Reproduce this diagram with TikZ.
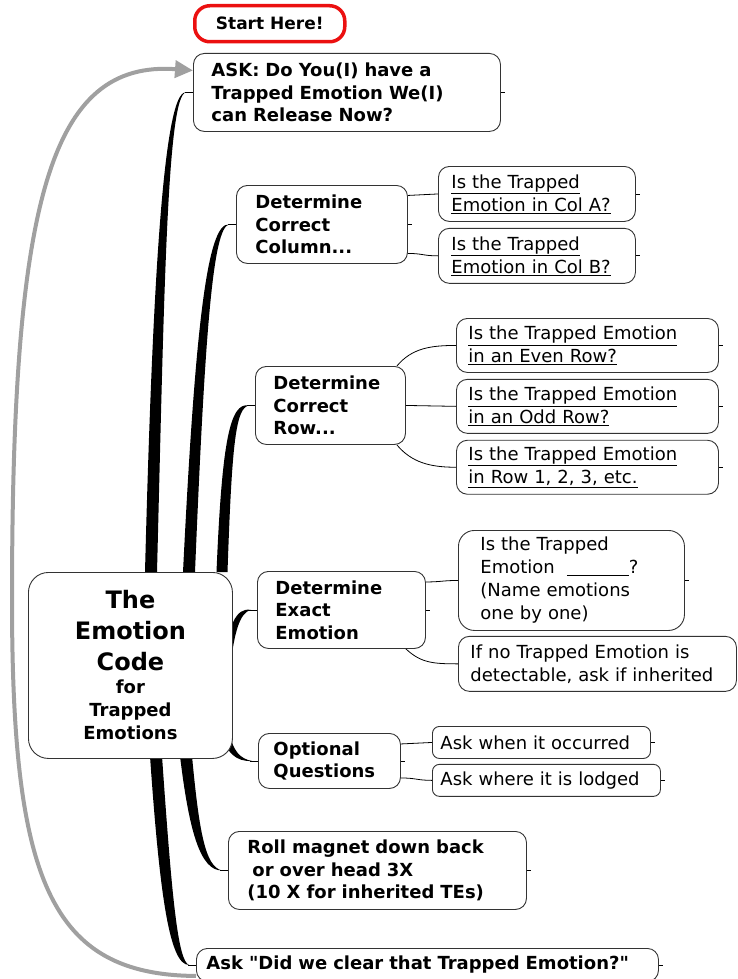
\documentclass[tikz,border=0pt]{standalone}
\usepackage{fontspec}
\setmainfont{DejaVu Sans}
\usetikzlibrary{positioning, arrows.meta, backgrounds}

\definecolor{loopgray}{RGB}{160,160,160}
\definecolor{startred}{RGB}{235,16,16}

\tikzset{
  box/.style={draw=black!80, line width=0.9pt, fill=white, rounded corners=11pt,
    anchor=north west, align=left, inner ysep=0pt},
  topic/.style={box, font=\fontsize{18}{22.5}\selectfont\bfseries},
  leaf/.style={box, font=\fontsize{18}{23}\selectfont},
  twig/.style={line width=0.8pt},
  limb/.style={fill=black},
}

\begin{document}
\begin{tikzpicture}[x=1pt, y=-1pt]
    \useasboundingbox (0,0) rectangle (737,979);
    \clip (0,0) rectangle (737,979);

    % centre of the map
    \node[box, rounded corners=20pt, align=center, text width=190pt, inner xsep=7pt,
          minimum height=186pt, font=\bfseries] (code) at (28,572)
        {{\fontsize{24}{31}\selectfont The\\Emotion\\Code\par}%
         {\fontsize{18}{23}\selectfont for\\Trapped\\Emotions\par}};

    \node[draw=startred, line width=3.5pt, rounded corners=15pt, anchor=north west,
          minimum width=150pt, minimum height=36pt, inner sep=0pt,
          font=\fontsize{17}{20}\selectfont\bfseries] (start) at (193,4) {Start Here!};

    % main topics
    \node[topic, text width=271pt, inner xsep=18pt, minimum height=78pt] (ask) at (193,53)
        {ASK: Do You(I) have a\\Trapped Emotion We(I)\\can Release Now?};
    \node[topic, text width=133pt, inner xsep=19pt, minimum height=78pt] (col) at (236,185)
        {Determine\\Correct\\Column...};
    \node[topic, text width=114pt, inner xsep=18pt, minimum height=78pt] (row) at (255,366)
        {Determine\\Correct\\Row...};
    \node[topic, text width=132pt, inner xsep=18pt, minimum height=77pt] (exact) at (257,571)
        {Determine\\Exact\\Emotion};
    \node[topic, text width=112pt, inner xsep=15pt, minimum height=55pt] (opt) at (258,733)
        {Optional\\Questions};
    \node[topic, text width=260pt, inner xsep=19pt, minimum height=78pt] (roll) at (228,831)
        {Roll magnet down back\\\hspace*{5pt}or over head 3X\\(10 X for inherited TEs)};
    \node[topic, text width=442pt, inner xsep=10pt, minimum height=33pt] (clear) at (196,948)
        {Ask \textquotedbl Did we clear that Trapped Emotion?\textquotedbl};

    % subtopics
    \node[leaf, text width=171pt, inner xsep=13pt, minimum height=55pt] (colA) at (438,166)
        {\underline{Is the Trapped}\\\underline{Emotion in Col A?}};
    \node[leaf, text width=171pt, inner xsep=13pt, minimum height=55pt, below=6pt of colA] (colB)
        {\underline{Is the Trapped}\\\underline{Emotion in Col B?}};

    \node[leaf, text width=238pt, inner xsep=12pt, minimum height=54pt] (even) at (456,318)
        {\underline{Is the Trapped Emotion}\\\underline{in an Even Row?}};
    \node[leaf, text width=238pt, inner xsep=12pt, minimum height=54pt, below=6pt of even] (odd)
        {\underline{Is the Trapped Emotion}\\\underline{in an Odd Row?}};
    \node[leaf, text width=238pt, inner xsep=12pt, minimum height=54pt, below=6pt of odd] (rowN)
        {\underline{Is the Trapped Emotion}\\\underline{in Row 1, 2, 3, etc.}};

    \node[leaf, rounded corners=16pt, text width=182pt, inner xsep=22pt, minimum height=100pt] (name) at (458,530)
        {Is the Trapped\\Emotion\hspace{12pt}\underline{\hspace{62pt}}?\\(Name emotions\\one by one)};
    \node[leaf, text width=254pt, inner xsep=12pt, minimum height=55pt,
          below right=5pt and 0pt of name.south west] (none)
        {If no Trapped Emotion is\\detectable, ask if inherited};

    \node[leaf, rounded corners=7pt, text width=202pt, inner xsep=8pt, minimum height=32pt] (when) at (432,726)
        {Ask when it occurred};
    \node[leaf, rounded corners=7pt, text width=212pt, inner xsep=8pt, minimum height=32pt,
          below right=5pt and 0pt of when.south west] (where)
        {Ask where it is lodged};

    % roots of the thick branches, under the centre box
    \coordinate (rAsk) at (151,572);
    \coordinate (rCol) at (189,572);
    \coordinate (rRow) at (222,572);
    \coordinate (rExact) at (226,670);
    \coordinate (rOpt) at (226,735);
    \coordinate (rRoll) at (186,756);
    \coordinate (rClear) at (156,756);

    \begin{scope}[on background layer]
        \fill[limb] ([xshift=-6pt]rAsk) .. controls (152,300) and (163,89) .. ([xshift=-7pt]ask.west)
            .. controls (167,94) and (164,300) .. ([xshift=6pt]rAsk) -- cycle;
        \fill[limb] ([xshift=-6pt]rCol) .. controls (195,330) and (207,222) .. ([xshift=-7pt]col.west)
            .. controls (213,228) and (205,330) .. ([xshift=6pt]rCol) -- cycle;
        \fill[limb] ([xshift=-5.5pt]rRow) .. controls (222,440) and (230,402) .. ([xshift=-6pt]row.west)
            .. controls (236,408) and (232,440) .. ([xshift=5.5pt]rRow) -- cycle;
        \fill[limb] ([xshift=-4pt]rExact) .. controls (228,625) and (236,607) .. ([xshift=-6pt]exact.west)
            .. controls (240,612) and (234,632) .. ([xshift=4pt]rExact) -- cycle;
        \fill[limb] ([xshift=-4pt]rOpt) .. controls (226,752) and (236,762) .. ([xshift=-6pt]opt.west)
            .. controls (240,759) and (233,750) .. ([xshift=4pt]rOpt) -- cycle;
        \fill[limb] ([xshift=-6pt]rRoll) .. controls (189,830) and (200,871) .. ([xshift=-6pt]roll.west)
            .. controls (205,867) and (199,830) .. ([xshift=6pt]rRoll) -- cycle;
        \fill[limb] ([xshift=-6pt]rClear) .. controls (160,900) and (170,965) .. ([xshift=-7pt]clear.west)
            .. controls (178,961) and (172,900) .. ([xshift=6pt]rClear) -- cycle;
    \end{scope}

    \foreach \n in {ask,col,row,exact,opt,roll,clear}
        \draw[twig] ([xshift=-8pt]\n.west) -- (\n.west);

    % thin links to the subtopics
    \draw[twig] ([yshift=29pt]col.east) .. controls +(15,0) and +(-15,0) .. (colA.west);
    \draw[twig] ([yshift=-29pt]col.east) .. controls +(15,0) and +(-15,0) .. (colB.west);
    \draw[twig] ([xshift=-9pt]row.north east) .. controls +(15,-18) and +(-25,0) .. (even.west);
    \draw[twig] (row.east) -- (odd.west);
    \draw[twig] ([xshift=-9pt]row.south east) .. controls +(15,18) and +(-25,0) .. (rowN.west);
    \draw[twig] ([yshift=28pt]exact.east) .. controls +(15,0) and +(-15,0) .. (name.west);
    \draw[twig] ([xshift=-20pt]exact.south east) .. controls +(15,14) and +(-25,0) .. (none.west);
    \draw[twig] ([yshift=17pt]opt.east) .. controls +(15,0) and +(-15,0) .. (when.west);
    \draw[twig] ([yshift=-17pt]opt.east) .. controls +(15,0) and +(-15,0) .. (where.west);

    % little markers on the right of the boxes
    \foreach \n in {ask,col,colA,colB,even,odd,rowN,exact,name,opt,when,where,roll,clear}
        \draw[twig] (\n.east) -- ++(4,0);

    % back to the start
    \draw[loopgray, line width=4pt, -{Triangle[length=18pt,width=17pt]}]
        ([yshift=-11pt]clear.west) .. controls (50,975) and (12,880) .. (12,600)
        .. controls (12,200) and (50,60) .. ([yshift=22pt]ask.west);
\end{tikzpicture}
\end{document}
